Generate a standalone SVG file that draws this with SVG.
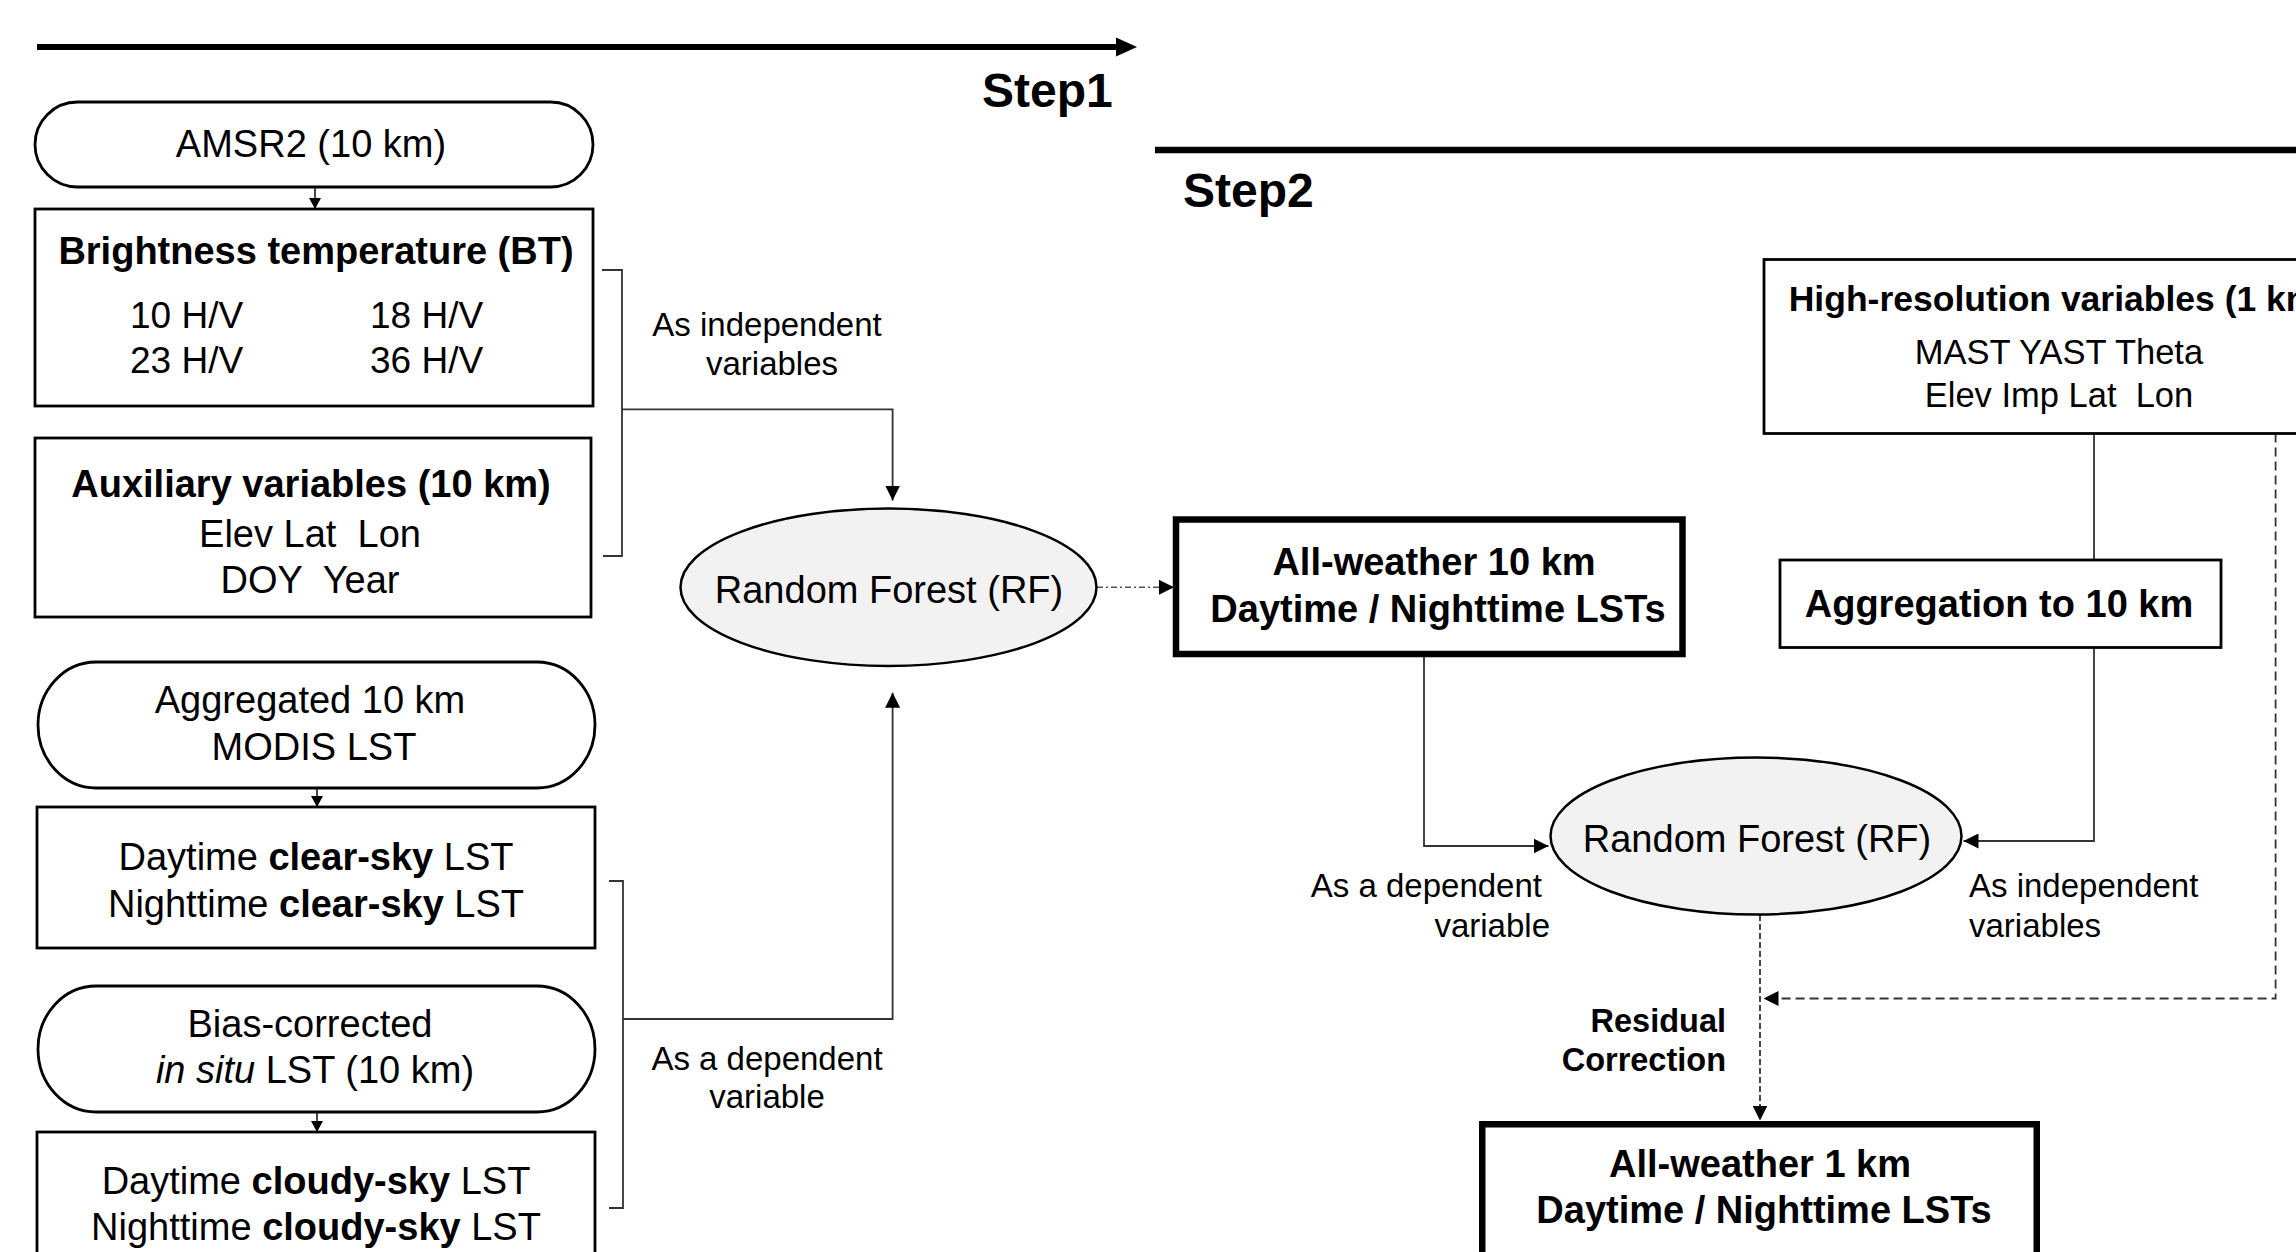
<svg xmlns="http://www.w3.org/2000/svg" width="2296" height="1252" viewBox="0 0 2296 1252">
<defs>
<style>
text{font-family:"Liberation Sans",Arial,Helvetica,sans-serif;fill:#000}
.n{font-size:38px;text-anchor:middle}
.hv{font-size:37px}
.b{font-weight:bold}
.step{font-size:48px;font-weight:bold}
.lbl{font-size:33px}
.box{fill:#fff;stroke:#000;stroke-width:2.8}
.thick{fill:#fff;stroke:#000;stroke-width:6.5}
.rf{fill:#f2f2f2;stroke:#000;stroke-width:2.5}
.c{fill:none;stroke:#333;stroke-width:1.8}
.dd{stroke-dasharray:6 3 2 3;stroke:#555;stroke-width:1.6}
.d1{stroke-dasharray:9 5}
.d2{stroke-dasharray:6 3}
</style>
<marker id="a" viewBox="0 0 10 10" refX="10" refY="5" markerWidth="15" markerHeight="15" orient="auto" markerUnits="userSpaceOnUse"><path d="M0,0L10,5L0,10z" fill="#000"/></marker>
<marker id="as" viewBox="0 0 10 10" refX="10" refY="5" markerWidth="11" markerHeight="12" orient="auto" markerUnits="userSpaceOnUse" preserveAspectRatio="none"><path d="M0,0L10,5L0,10z" fill="#000"/></marker>
</defs>
<rect width="2296" height="1252" fill="#fff"/>

<g id="timeline">
<line x1="37" y1="47" x2="1118" y2="47" stroke="#000" stroke-width="6"/>
<polygon points="1116,37.5 1137,47 1116,56.5" fill="#000"/>
<text class="step" x="982" y="107">Step1</text>
<line x1="1155" y1="150" x2="2296" y2="150" stroke="#000" stroke-width="6.5"/>
<text class="step" x="1183" y="207">Step2</text>
</g>

<g id="connectors">
<line class="c" x1="315" y1="187" x2="315" y2="209" marker-end="url(#as)"/>
<line class="c" x1="317" y1="788" x2="317" y2="807" marker-end="url(#as)"/>
<line class="c" x1="317" y1="1112" x2="317" y2="1132" marker-end="url(#as)"/>
<path class="c" d="M602,270H622V556H603"/>
<path class="c" d="M622,409.3H892.6V500.5" marker-end="url(#a)"/>
<path class="c" d="M609,881H623V1208H609"/>
<path class="c" d="M623,1019H892.6V692.7" marker-end="url(#a)"/>
<path class="c dd" d="M1097,587.3H1174" marker-end="url(#a)"/>
<path class="c" d="M1424,657V846H1548.5" marker-end="url(#a)"/>
<path class="c" d="M2094,647V841H1963.5" marker-end="url(#a)"/>
<path class="c" d="M2094,433.5V560"/>
<path class="c d1" d="M2275.6,433.5V998.5H1763.5" marker-end="url(#a)"/>
<path class="c d2" d="M1760,915V1120.5" marker-end="url(#a)"/>
</g>

<g id="edge-labels">
<text class="lbl" x="767" y="336" text-anchor="middle">As independent</text>
<text class="lbl" x="772" y="375" text-anchor="middle">variables</text>
<text class="lbl" x="767" y="1070" text-anchor="middle">As a dependent</text>
<text class="lbl" x="767" y="1108" text-anchor="middle">variable</text>
<text class="lbl" x="1542" y="897" text-anchor="end">As a dependent</text>
<text class="lbl" x="1550" y="937" text-anchor="end">variable</text>
<text class="lbl" x="1969" y="897">As independent</text>
<text class="lbl" x="1969" y="937">variables</text>
<text class="b" font-size="32.5" x="1726" y="1032" text-anchor="end">Residual</text>
<text class="b" font-size="32.5" x="1726" y="1071" text-anchor="end">Correction</text>
</g>

<g id="amsr2">
<rect class="box" x="35" y="102" width="558" height="85" rx="42.5" ry="42.5" stroke-width="2.5"/>
<text class="n" x="311" y="157">AMSR2 (10 km)</text>
</g>

<g id="bt">
<rect class="box" x="35" y="209" width="558" height="197"/>
<text class="n b" x="316" y="264">Brightness temperature (BT)</text>
<text class="hv" x="130" y="328">10 H/V</text>
<text class="hv" x="370" y="328">18 H/V</text>
<text class="hv" x="130" y="373">23 H/V</text>
<text class="hv" x="370" y="373">36 H/V</text>
</g>

<g id="aux">
<rect class="box" x="35" y="438" width="556" height="179"/>
<text class="n b" x="311" y="497">Auxiliary variables (10 km)</text>
<text class="n" x="310" y="547" xml:space="preserve">Elev Lat  Lon</text>
<text class="n" x="310" y="593" xml:space="preserve">DOY  Year</text>
</g>

<g id="modis">
<rect class="box" x="38" y="662" width="557" height="126" rx="58" ry="63" stroke-width="2.5"/>
<text class="n" x="310" y="713">Aggregated 10 km</text>
<text class="n" x="314" y="760">MODIS LST</text>
</g>

<g id="clear">
<rect class="box" x="37" y="807" width="558" height="141"/>
<text class="n" x="316" y="870">Daytime <tspan class="b">clear-sky</tspan> LST</text>
<text class="n" x="316" y="917">Nighttime <tspan class="b">clear-sky</tspan> LST</text>
</g>

<g id="bias">
<rect class="box" x="38" y="986" width="557" height="126" rx="58" ry="63" stroke-width="2.5"/>
<text class="n" x="310" y="1037">Bias-corrected</text>
<text class="n" x="315" y="1083"><tspan font-style="italic">in situ</tspan> LST (10 km)</text>
</g>

<g id="cloudy">
<rect class="box" x="37" y="1132" width="558" height="140"/>
<text class="n" x="316" y="1194">Daytime <tspan class="b">cloudy-sky</tspan> LST</text>
<text class="n" x="316" y="1240">Nighttime <tspan class="b">cloudy-sky</tspan> LST</text>
</g>

<g id="rf1">
<ellipse class="rf" cx="888.5" cy="587.2" rx="208" ry="78.7"/>
<text class="n" font-size="39.5" x="889" y="603">Random Forest (RF)</text>
</g>

<g id="aw10">
<rect class="thick" x="1176" y="519.5" width="506.5" height="134.5"/>
<text class="n b" x="1434" y="575">All-weather 10 km</text>
<text class="n b" x="1438" y="621.5">Daytime / Nighttime LSTs</text>
</g>

<g id="hires">
<rect class="box" x="1764" y="259.5" width="600" height="174"/>
<text class="b" font-size="35.5" text-anchor="middle" x="2059" y="311">High-resolution variables (1 km)</text>
<text font-size="34.5" text-anchor="middle" x="2059" y="363.5">MAST YAST Theta</text>
<text font-size="34.5" text-anchor="middle" x="2059" y="406.5" xml:space="preserve">Elev Imp Lat  Lon</text>
</g>

<g id="agg">
<rect class="box" x="1780" y="560" width="441" height="87.5"/>
<text class="n b" x="1999" y="616.5">Aggregation to 10 km</text>
</g>

<g id="rf2">
<ellipse class="rf" cx="1756" cy="836" rx="205.5" ry="78.5"/>
<text class="n" font-size="39.5" x="1757" y="852">Random Forest (RF)</text>
</g>

<g id="aw1">
<rect class="thick" x="1482.25" y="1124.25" width="554.5" height="160"/>
<text class="n b" x="1760" y="1177">All-weather 1 km</text>
<text class="n b" x="1764" y="1222.5">Daytime / Nighttime LSTs</text>
</g>
</svg>
